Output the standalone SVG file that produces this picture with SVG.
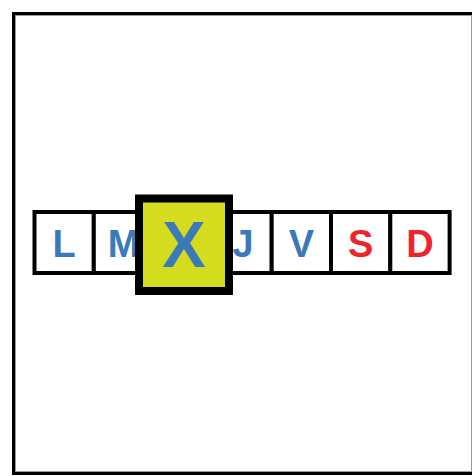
<svg xmlns="http://www.w3.org/2000/svg" width="472" height="476" viewBox="0 0 472 476">
<style>
.cell{fill:#fff;stroke:#000;stroke-width:4}
.lt{font-family:"Liberation Sans",Arial,sans-serif;font-weight:bold;font-size:38px;text-anchor:middle}
.blue{fill:#3a7ab8}
.red{fill:#ec2529}
</style>
<rect width="472" height="476" fill="#fff"/>
<rect x="13.5" y="13.5" width="470" height="460" fill="none" stroke="#000" stroke-width="3"/>
<rect x="15.5" y="15.5" width="456" height="456" fill="none" stroke="#999" stroke-width="1"/>
<g id="connectors"></g>
<g id="cell-L"><rect class="cell" x="34.5" y="212" width="59.3" height="61"/><text class="lt blue" x="64.2" y="256.5">L</text></g>
<g id="cell-M"><rect class="cell" x="93.8" y="212" width="59.3" height="61"/><text class="lt blue" x="123.5" y="256.5">M</text></g>
<g id="cell-J"><rect class="cell" x="212.4" y="212" width="59.3" height="61"/><text class="lt blue" x="243" y="256.5">J</text></g>
<g id="cell-V"><rect class="cell" x="271.7" y="212" width="59.3" height="61"/><text class="lt blue" x="301.4" y="256.5">V</text></g>
<g id="cell-S"><rect class="cell" x="331" y="212" width="59.3" height="61"/><text class="lt red" x="360.7" y="256.5">S</text></g>
<g id="cell-D"><rect class="cell" x="390.3" y="212" width="59.3" height="61"/><text class="lt red" x="420" y="256.5">D</text></g>
<g id="cell-X"><rect x="139" y="198.5" width="90" height="92.5" fill="#d3dc1f" stroke="#000" stroke-width="8"/><text class="lt blue" x="184" y="266.7" style="font-size:65px">X</text></g>
</svg>
